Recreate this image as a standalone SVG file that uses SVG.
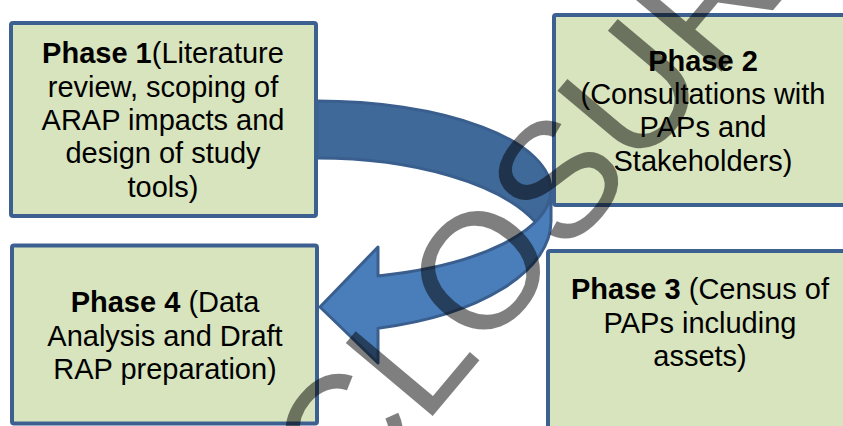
<svg xmlns="http://www.w3.org/2000/svg" width="843" height="426" viewBox="0 0 843 426">
<style>
.box{fill:#d7e4bd;stroke:#3c6191;stroke-width:4}
.t{font-family:"Liberation Sans",Arial,sans-serif;font-size:29px;fill:#000;text-anchor:middle}
.b{font-weight:bold}
.arr{stroke:#3a5f8e;stroke-width:3;stroke-linejoin:round}
.back{fill:#3f6999}
.front{fill:#4a7ebb}
.wm{font-family:"Liberation Sans",Arial,sans-serif;font-size:165px;fill:#000;fill-opacity:0.5}
</style>
<rect width="843" height="426" fill="#fff"/>
<g id="connectors">
<path class="arr back" d="M317,101 A234 89 0 0 1 551,190 A234 89 0 0 1 535.5,222 A234 100 0 0 0 317,158 Z"/>
<path class="arr front" d="M551,190 L551,221 A234 111 0 0 1 378,328.2 L378,363 L320,307 L378,247 L378,275.9 A234 89 0 0 0 551,190 Z"/>
</g>
<g id="node-phase1">
<rect class="box" x="11" y="23" width="305" height="193" rx="2"/>
<text class="t" x="163" y="63.3"><tspan class="b">Phase 1</tspan>(Literature</text>
<text class="t" x="163" y="96.7">review, scoping of</text>
<text class="t" x="163" y="130">ARAP impacts and</text>
<text class="t" x="163" y="163.4">design of study</text>
<text class="t" x="163" y="196.7">tools)</text>
</g>
<g id="node-phase2">
<rect class="box" x="554" y="15" width="310" height="190" rx="2"/>
<text class="t" x="703" y="70.7"><tspan class="b">Phase 2</tspan></text>
<text class="t" x="703" y="104">(Consultations with</text>
<text class="t" x="703" y="137.4">PAPs and</text>
<text class="t" x="703" y="171">Stakeholders)</text>
</g>
<g id="node-phase3">
<rect class="box" x="548" y="251" width="310" height="200" rx="2"/>
<text class="t" x="700" y="299.3"><tspan class="b">Phase 3</tspan> (Census of</text>
<text class="t" x="700" y="332.7">PAPs including</text>
<text class="t" x="700" y="366">assets)</text>
</g>
<g id="node-phase4">
<rect class="box" x="12" y="245.5" width="305" height="178" rx="2"/>
<text class="t" x="165" y="311.7"><tspan class="b">Phase 4</tspan> (Data</text>
<text class="t" x="165" y="345.5">Analysis and Draft</text>
<text class="t" x="165" y="379.3">RAP preparation)</text>
</g>
<g id="watermark">
<text class="wm" transform="translate(347.4,517.6) rotate(-50)">CLOSURE</text>
</g>
</svg>
